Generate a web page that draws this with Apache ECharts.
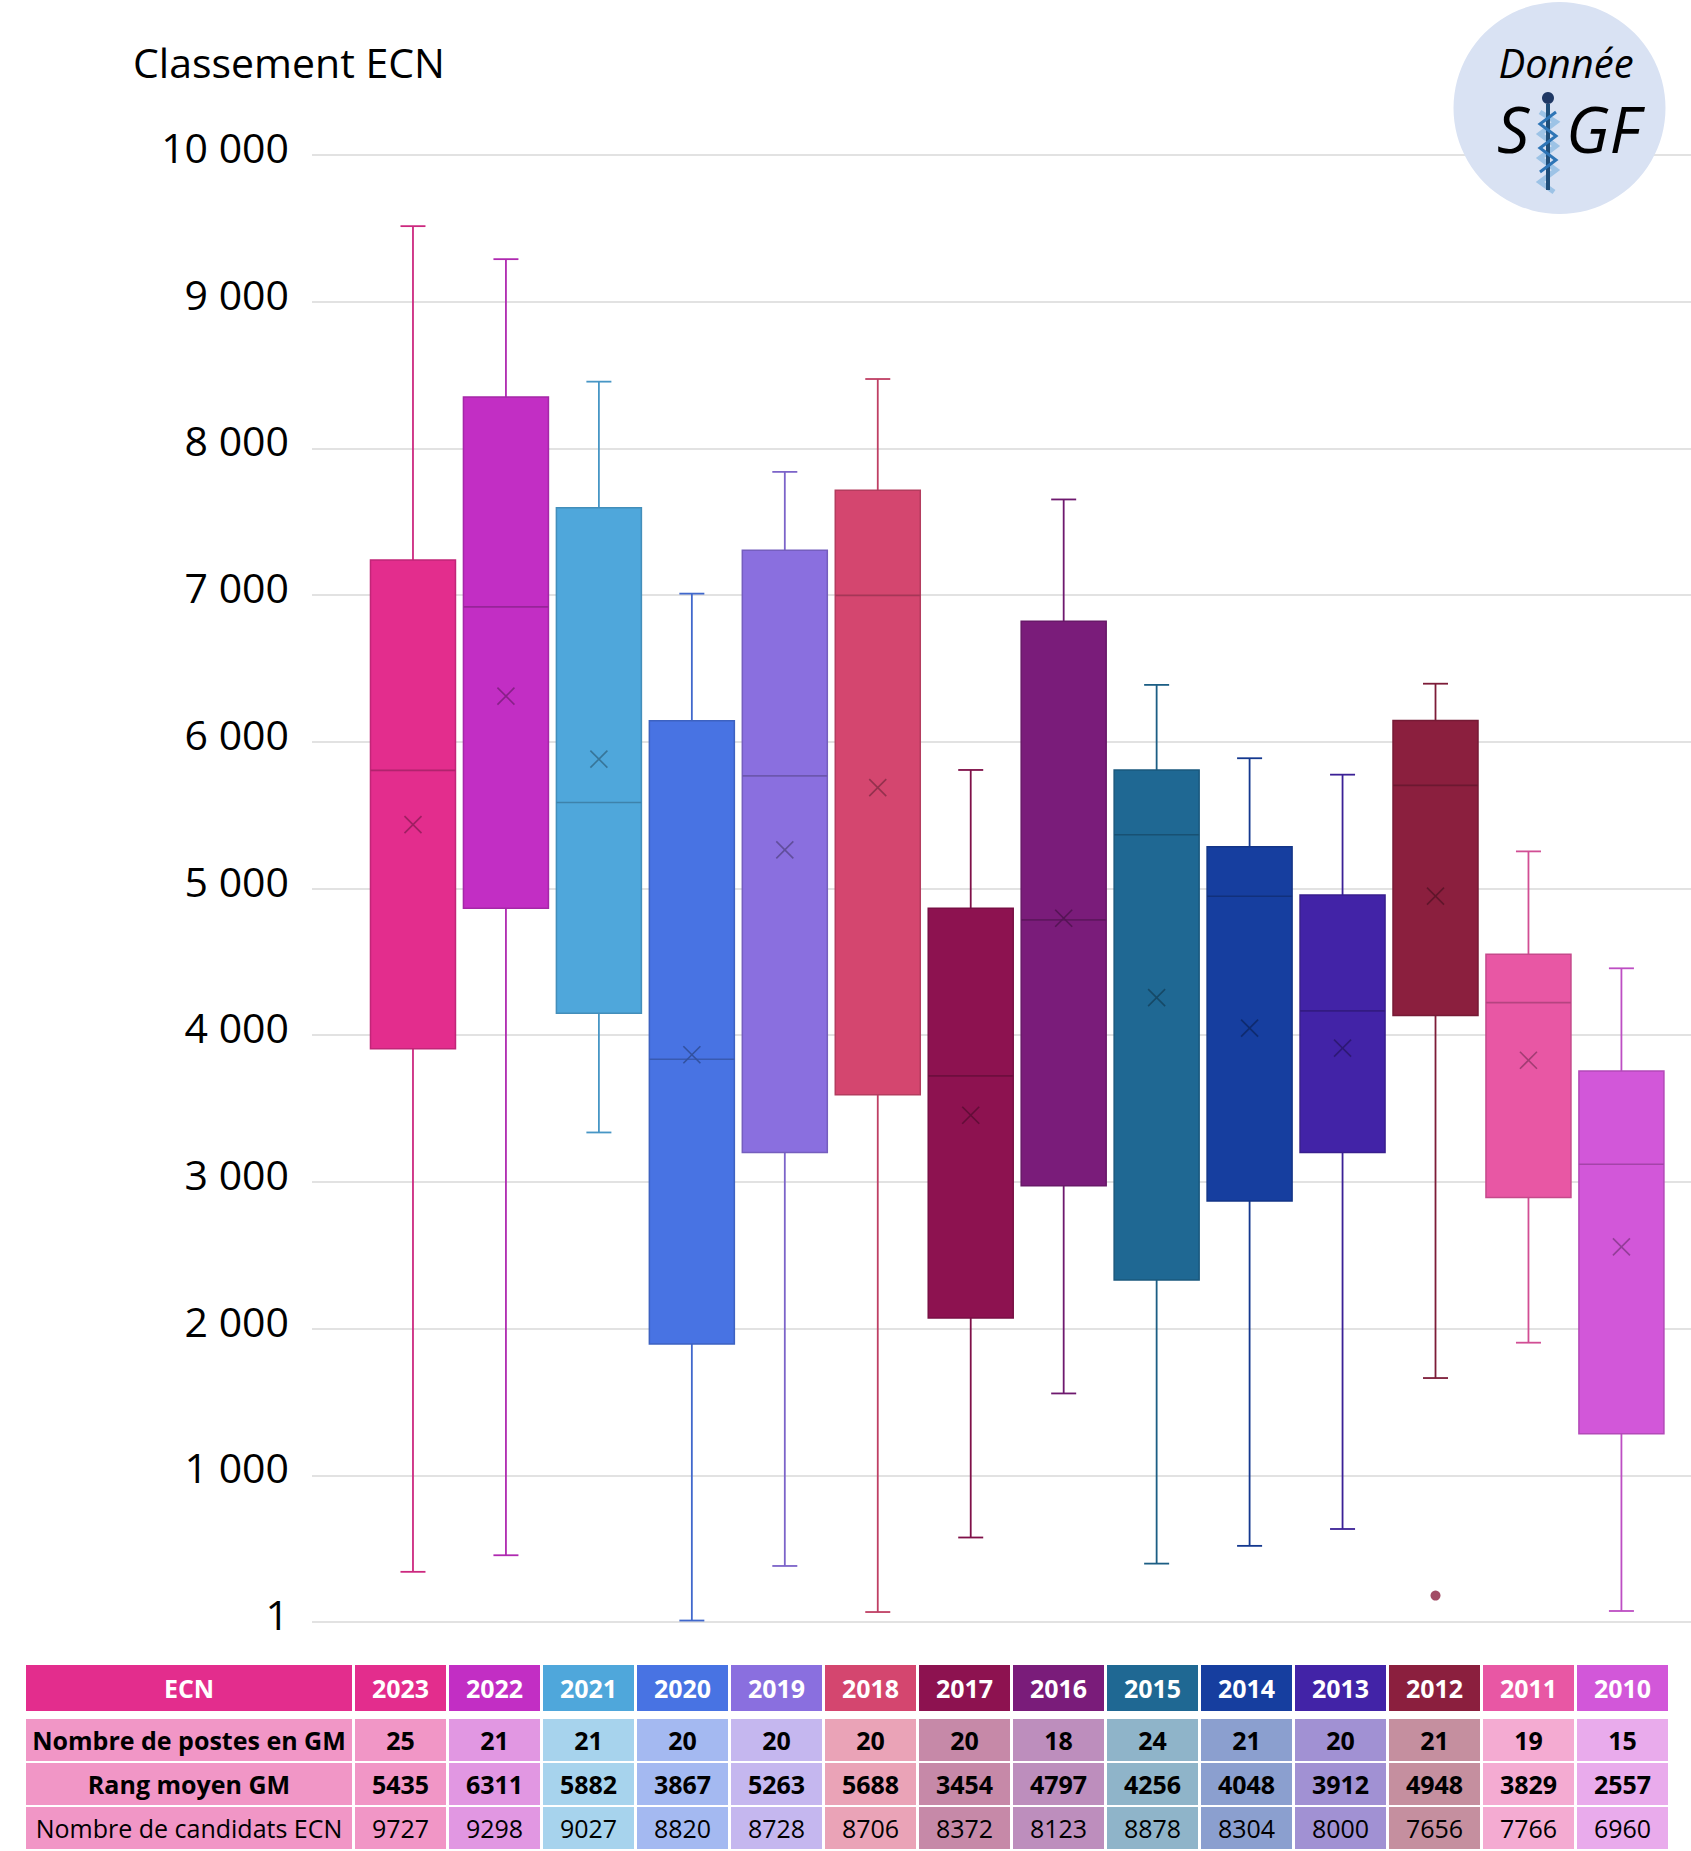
<!DOCTYPE html>
<html>
<head>
<meta charset="utf-8">
<script src="https://cdn.jsdelivr.net/npm/echarts@6.0.0/dist/echarts.min.js"></script>
<style>
  html, body { margin: 0; padding: 0; background: #fff; }
  #chart { width: 1691px; height: 1851px; }
</style>
</head>
<body>
<div id="chart"></div>
<script>
// années (ordre du graphique)
const years = ['2023', '2022', '2021', '2020', '2019', '2018', '2017', '2016', '2015', '2014', '2013', '2012', '2011', '2010'];

// boites a moustaches, classement ECN
const whiskerHigh = [9515, 9290, 8455, 7010, 7840, 8473, 5808, 7652, 6388, 5888, 5776, 6396, 5253, 4456];
const q3 = [7240, 8350, 7595, 6143, 7305, 7714, 4866, 6822, 5808, 5285, 4955, 6146, 4552, 3756];
const median = [5805, 6920, 5586, 3836, 5768, 6998, 3723, 4786, 5366, 4947, 4166, 5703, 4222, 3120];
const q1 = [3908, 4866, 4150, 1895, 3200, 3594, 2073, 2974, 2331, 2870, 3200, 4134, 2894, 1284];
const whiskerLow = [342, 455, 3337, 10, 382, 68, 576, 1558, 398, 519, 634, 1663, 1904, 75];
const outliers = [[11, 180]]; // [index annee, rang]

// tableau
const postes = [25, 21, 21, 20, 20, 20, 20, 18, 24, 21, 20, 21, 19, 15];
const rangMoyen = [5435, 6311, 5882, 3867, 5263, 5688, 3454, 4797, 4256, 4048, 3912, 4948, 3829, 2557];
const candidats = [9727, 9298, 9027, 8820, 8728, 8706, 8372, 8123, 8878, 8304, 8000, 7656, 7766, 6960];
const rowLabels = ['ECN', 'Nombre de postes en GM', 'Rang moyen GM', 'Nombre de candidats ECN'];

// graduations
const yTicks = [0, 1000, 2000, 3000, 4000, 5000, 6000, 7000, 8000, 9000, 10000];

const colors = ['#E32D8D', '#C22EC4', '#4FA7DB', '#4873E3', '#8A6FDF', '#D4466F', '#8D1250',
  '#7A1C7A', '#1F6893', '#163E9F', '#4223A7', '#8B1F3E', '#E857A4', '#D257D9'];

const FONT = '"Open Sans", "Noto Sans", sans-serif';

//couleurs
const hexRgb = (h) => [1, 3, 5].map(i => parseInt(h.slice(i, i + 2), 16));
const dark = (h, f) => 'rgb(' + hexRgb(h).map(v => Math.round(v * f)).join(',') + ')';
const tint = (h, t) => 'rgb(' + hexRgb(h).map(v => Math.round(v + (255 - v) * t)).join(',') + ')';

const fmt = (v) => v === 0 ? '1' : String(v).replace(/\B(?=(\d{3})+(?!\d))/g, ' ');

// donnees boites
const boxData = years.map((y, i) => [i, whiskerLow[i], q1[i], median[i], q3[i], whiskerHigh[i]]);
const meanData = rangMoyen.map((v, i) => [i, v]);

// cellules du tableau
const tableCells = [];
const rows = [years, postes, rangMoyen, candidats];
rows.forEach((vals, r) => {
  tableCells.push({ value: [-3.5, 0, r], text: rowLabels[r], ci: 0 });
  vals.forEach((v, k) => {
    tableCells.push({ value: [k, k + 1, r], text: String(v), ci: k });
  });
});

const chart = echarts.init(document.getElementById('chart'), null, { renderer: 'svg' });

const option = {
  animation: false,
  backgroundColor: '#fff',
  grid: [
    { left: 312, right: 0, top: 155, height: 1467 },
    { left: 366.5, right: 23.1, top: 155, height: 1467 },
    { left: 26, right: 20, top: 1675, height: 184 }
  ],
  xAxis: [
    { gridIndex: 0, type: 'category', data: [''], show: false },
    { gridIndex: 1, type: 'category', data: years, show: false },
    { gridIndex: 2, type: 'value', min: -3.5, max: 14, show: false }
  ],
  yAxis: [
    {
      gridIndex: 0, type: 'value', min: yTicks[0], max: yTicks[yTicks.length - 1], interval: 1000,
      axisLine: { show: false }, axisTick: { show: false },
      axisLabel: {
        fontSize: 41, color: '#000', margin: 23, fontFamily: FONT, formatter: fmt,
        verticalAlign: 'bottom', lineHeight: 16
      },
      splitLine: { lineStyle: { color: '#d9d9d9', width: 1.5 } }
    },
    { gridIndex: 1, type: 'value', min: 0, max: 10000, show: false },
    { gridIndex: 2, type: 'value', min: 0, max: 4, inverse: true, show: false }
  ],
  graphic: [
    {
      type: 'text', x: 133, y: 62, z: 10,
      style: { text: 'Classement ECN', font: '41px ' + FONT, fill: '#000', verticalAlign: 'middle' }
    },
    // logo
    { type: 'circle', z: 10, shape: { cx: 1559.5, cy: 108, r: 106 }, style: { fill: '#D9E2F3' } },
    {
      type: 'text', x: 1566, y: 62, z: 11,
      style: { text: 'Donnée', font: 'italic 40px ' + FONT, fill: '#000', align: 'center', verticalAlign: 'middle' }
    },
    {
      type: 'text', x: 1497, y: 128, z: 11,
      style: { text: 'S', font: 'italic 64px ' + FONT, fill: '#000', verticalAlign: 'middle' }
    },
    {
      type: 'text', x: 1566, y: 128, z: 11,
      style: { text: 'GF', font: 'italic 64px ' + FONT, fill: '#000', verticalAlign: 'middle' }
    },
    {
      type: 'polyline', z: 11,
      shape: { points: [[1540, 112], [1556, 122], [1540, 134], [1556, 146], [1540, 158], [1556, 170], [1540, 182], [1554, 192]] },
      style: { stroke: '#9DC3E6', lineWidth: 5, fill: null }
    },
    { type: 'line', z: 12, shape: { x1: 1548, y1: 104, x2: 1548, y2: 190 }, style: { stroke: '#1F4E79', lineWidth: 4 } },
    {
      type: 'polyline', z: 13,
      shape: { points: [[1556, 112], [1540, 124], [1556, 136], [1540, 148], [1556, 160], [1540, 172]] },
      style: { stroke: '#2E75B6', lineWidth: 3, fill: null }
    },
    { type: 'circle', z: 13, shape: { cx: 1548, cy: 98, r: 6 }, style: { fill: '#1F3864' } }
  ],
  series: [
    {
      // boites
      type: 'custom',
      xAxisIndex: 1, yAxisIndex: 1,
      data: boxData,
      renderItem: (params, api) => {
        const i = api.value(0);
        const c = colors[i];
        const pLow = api.coord([i, api.value(1)]);
        const pQ1 = api.coord([i, api.value(2)]);
        const pMed = api.coord([i, api.value(3)]);
        const pQ3 = api.coord([i, api.value(4)]);
        const pHigh = api.coord([i, api.value(5)]);
        const cx = pQ1[0];
        const bw = 85, cap = 12.5;
        const wStyle = { stroke: dark(c, 0.9), lineWidth: 1.8 };
        return {
          type: 'group',
          children: [
            { type: 'line', shape: { x1: cx, y1: pQ3[1], x2: cx, y2: pHigh[1] }, style: wStyle },
            { type: 'line', shape: { x1: cx - cap, y1: pHigh[1], x2: cx + cap, y2: pHigh[1] }, style: wStyle },
            { type: 'line', shape: { x1: cx, y1: pQ1[1], x2: cx, y2: pLow[1] }, style: wStyle },
            { type: 'line', shape: { x1: cx - cap, y1: pLow[1], x2: cx + cap, y2: pLow[1] }, style: wStyle },
            {
              type: 'rect',
              shape: { x: cx - bw / 2, y: pQ3[1], width: bw, height: pQ1[1] - pQ3[1] },
              style: { fill: c, stroke: dark(c, 0.85), lineWidth: 1.5 }
            },
            {
              type: 'line', shape: { x1: cx - bw / 2, y1: pMed[1], x2: cx + bw / 2, y2: pMed[1] },
              style: { stroke: dark(c, 0.78), lineWidth: 1.6 }
            }
          ]
        };
      }
    },
    {
      // moyenne (croix)
      type: 'custom',
      xAxisIndex: 1, yAxisIndex: 1,
      data: meanData,
      z: 5,
      renderItem: (params, api) => {
        const i = api.value(0);
        const p = api.coord([i, api.value(1)]);
        const s = 8.5;
        const st = { stroke: dark(colors[i], 0.7), lineWidth: 1.6 };
        return {
          type: 'group',
          children: [
            { type: 'line', shape: { x1: p[0] - s, y1: p[1] - s, x2: p[0] + s, y2: p[1] + s }, style: st },
            { type: 'line', shape: { x1: p[0] - s, y1: p[1] + s, x2: p[0] + s, y2: p[1] - s }, style: st }
          ]
        };
      }
    },
    {
      type: 'scatter',
      xAxisIndex: 1, yAxisIndex: 1,
      data: outliers,
      symbolSize: 10,
      itemStyle: { color: (p) => colors[p.value[0]] }
    },
    {
      // tableau
      type: 'custom',
      xAxisIndex: 2, yAxisIndex: 2,
      data: tableCells,
      renderItem: (params, api) => {
        const cell = tableCells[params.dataIndex];
        const r = api.value(2);
        const p0 = api.coord([api.value(0), r]);
        const p1 = api.coord([api.value(1), r + 1]);
        let top = p0[1], bottom = p1[1] - 2;
        if (r === 0) { top -= 10; bottom -= 6; }
        const x0 = p0[0], x1 = p1[0] - 3;
        const c = colors[cell.ci];
        const fill = r === 0 ? c : tint(c, 0.5);
        let font, color;
        if (r === 0) { font = 'bold 25px ' + FONT; color = '#fff'; }
        else if (r === 3) { font = '25px ' + FONT; color = '#000'; }
        else { font = 'bold 25px ' + FONT; color = '#000'; }
        return {
          type: 'group',
          children: [
            { type: 'rect', shape: { x: x0, y: top, width: x1 - x0, height: bottom - top }, style: { fill: fill } },
            {
              type: 'text', x: (x0 + x1) / 2, y: (top + bottom) / 2,
              style: { text: cell.text, font: font, fill: color, align: 'center', verticalAlign: 'middle' }
            }
          ]
        };
      }
    }
  ]
};

chart.setOption(option);
</script>
</body>
</html>
